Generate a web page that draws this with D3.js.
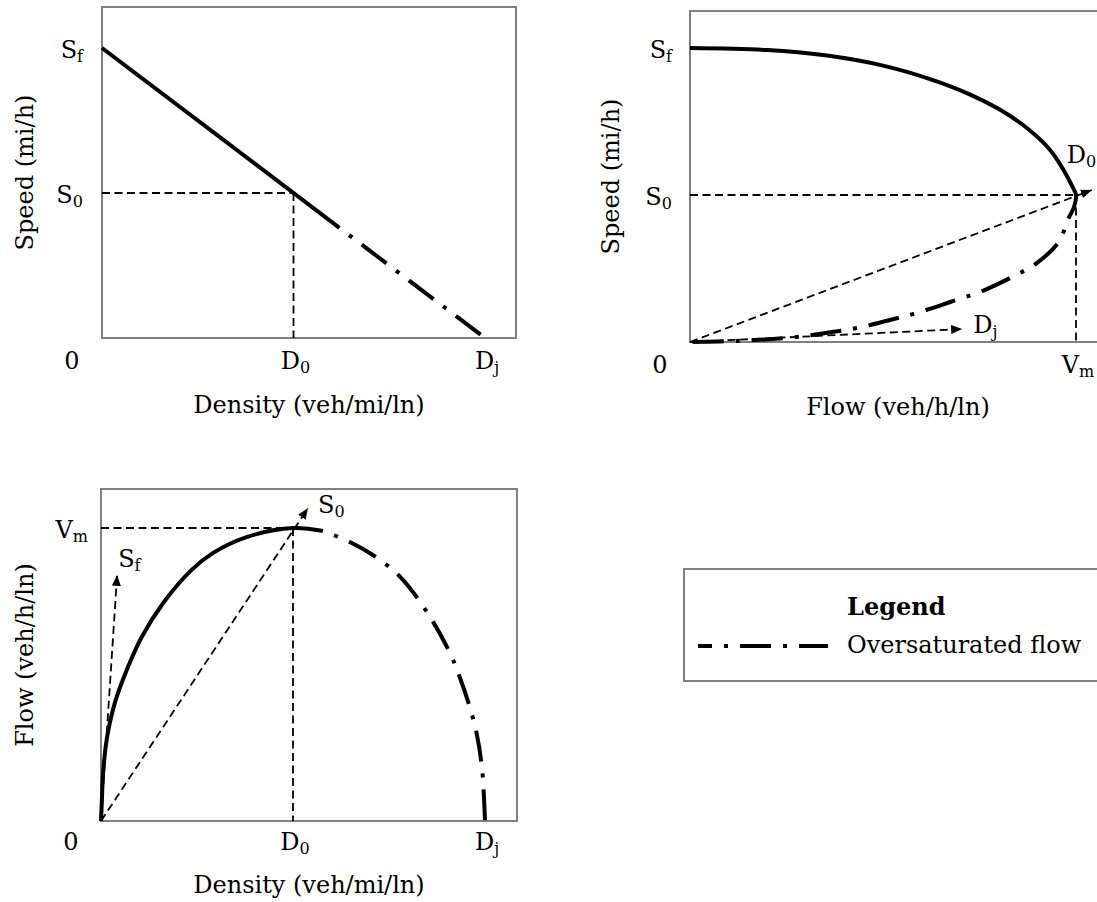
<!DOCTYPE html>
<html><head><meta charset="utf-8">
<script src="https://cdn.jsdelivr.net/npm/d3@7"></script>
<style>
body{margin:0;background:#fff}
svg{display:block}
text{font-family:"DejaVu Serif",serif;fill:#000}
</style>
</head><body>
<svg id="c" width="1097" height="902"></svg>
<script>
// ---------------- data (normalised: Sf = 1, Dj = 1, Vm = 1) ----------------
const originLabel = "0";
const densityTickLabels = [{value:0.5, main:"D", sub:"0"}, {value:1, main:"D", sub:"j"}];
const speedTickLabels   = [{value:1, main:"S", sub:"f"}, {value:0.5, main:"S", sub:"0"}];
const flowTickLabels    = [{value:1, main:"V", sub:"m"}];
const densityTitle = "Density (veh/mi/ln)";
const speedTitle   = "Speed (mi/h)";
const flowTitle    = "Flow (veh/h/ln)";
const legendTitle  = "Legend";
const legendItem   = "Oversaturated flow";

// speed vs density [density, speed]
const sdUnder = [[0,1.0],[0.62,0.38]];
const sdOver  = [[0.62,0.38],[1.0,0.0]];
// speed vs flow [flow, speed]
const sfUnder = [[0,1.0],[0.2,0.993],[0.35,0.975],[0.5,0.94],[0.62,0.895],[0.72,0.845],[0.81,0.785],
                 [0.88,0.72],[0.935,0.65],[0.97,0.58],[0.99,0.53],[1.0,0.5],[0.995,0.46],[0.98,0.42]];
const sfOver  = [[0.98,0.42],[0.955,0.34],[0.90,0.27],[0.84,0.225],[0.76,0.175],[0.674,0.136],
                 [0.588,0.099],[0.518,0.075],[0.433,0.048],[0.358,0.032],[0.267,0.016],[0.13,0.004],[0,0]];
// flow vs density [density, flow]
const fdUnder = [[0,0],[0.002,0.061],[0.006,0.174],[0.016,0.287],[0.036,0.403],[0.067,0.515],[0.106,0.628],
                 [0.162,0.744],[0.236,0.857],[0.292,0.915],[0.379,0.969],[0.5,1.0],[0.578,0.990]];
const fdOver  = [[0.578,0.990],[0.648,0.952],[0.719,0.898],[0.779,0.833],[0.849,0.713],[0.909,0.573],
                 [0.935,0.488],[0.961,0.386],[0.979,0.294],[0.992,0.184],[0.997,0.089],[1.0,0.0]];

// reference (dashed) lines [[x1,y1],[x2,y2]]
const sdRefs = [[[0,0.5],[0.5,0.5]], [[0.5,0.5],[0.5,0]]];
const sfRefs = [[[0,0.5],[1,0.5]], [[1,0.5],[1,0]]];
const sfRays = [{pts:[[0,0],[1.041,0.517]], main:"D", sub:"0", dx:-25, dy:-27},
                {pts:[[0,0],[0.705,0.044]], main:"D", sub:"j", dx:11, dy:4}];
const fdRefs = [[[0,1],[0.5,1]], [[0.5,1],[0.5,0]]];
const fdRays = [{pts:[[0,0],[0.539,1.068]], main:"S", sub:"0", dx:10, dy:5},
                {pts:[[0,0],[0.042,0.84]], main:"S", sub:"f", dx:1, dy:-8}];

// ---------------- drawing ----------------
const svg = d3.select("#c");
const defs = svg.append("defs");
defs.append("marker").attr("id","arr").attr("markerUnits","userSpaceOnUse")
  .attr("markerWidth",12).attr("markerHeight",10).attr("refX",11).attr("refY",4.5)
  .attr("orient","auto")
  .append("path").attr("d","M0,0L11,4.5L0,9Z").attr("fill","#000");

const FS = 24, SUB = 16;
const DASHDOT = "31,12,4,12";

function label(g, x, y, main, sub, anchor){
  const t = g.append("text").attr("x",x).attr("y",y).attr("font-size",FS).attr("text-anchor",anchor||"middle");
  t.append("tspan").text(main);
  if(sub) t.append("tspan").attr("font-size",SUB).attr("dy",4).text(sub);
  return t;
}

function panel(cfg){
  const g = svg.append("g");
  const x = d3.scaleLinear().domain([0,1]).range(cfg.xr);
  const y = d3.scaleLinear().domain([0,1]).range(cfg.yr);
  const line = d3.line().x(d=>x(d[0])).y(d=>y(d[1])).curve(cfg.curve || d3.curveLinear);
  const straight = d3.line().x(d=>x(d[0])).y(d=>y(d[1]));
  // frame
  g.append("rect").attr("x",cfg.frame[0]).attr("y",cfg.frame[1])
   .attr("width",cfg.frame[2]-cfg.frame[0]).attr("height",cfg.frame[3]-cfg.frame[1])
   .attr("fill","none").attr("stroke","#808080").attr("stroke-width",2);
  // dashed refs
  cfg.refs.forEach(r=>{
    g.append("path").attr("d",straight(r)).attr("fill","none").attr("stroke","#000")
     .attr("stroke-width",1.8).attr("stroke-dasharray","8,4.5");
  });
  (cfg.rays||[]).forEach(r=>{
    g.append("path").attr("d",straight(r.pts)).attr("fill","none").attr("stroke","#000")
     .attr("stroke-width",1.8).attr("stroke-dasharray","8,4.5").attr("marker-end","url(#arr)");
    const tip = r.pts[1];
    label(g, x(tip[0])+r.dx, y(tip[1])+r.dy, r.main, r.sub, "start");
  });
  // curves
  g.append("path").attr("d",line(cfg.under)).attr("fill","none").attr("stroke","#000").attr("stroke-width",4);
  g.append("path").attr("d",line(cfg.over)).attr("fill","none").attr("stroke","#000").attr("stroke-width",4)
   .attr("stroke-dasharray",DASHDOT).attr("stroke-dashoffset",31);
  // tick labels
  cfg.xTicks.forEach(t=>label(g, x(t.value)+2, cfg.tickY, t.main, t.sub, "middle"));
  cfg.yTicks.forEach(t=>label(g, cfg.frame[0]-cfg.yTickGap, y(t.value)+cfg.yTickDy, t.main, t.sub, "end"));
  g.append("text").attr("x",cfg.frame[0]-30).attr("y",cfg.tickY).attr("font-size",FS)
   .attr("text-anchor","middle").text(originLabel);
  // titles
  g.append("text").attr("x",(cfg.frame[0]+cfg.frame[2])/2).attr("y",cfg.xTitleY).attr("font-size",FS)
   .attr("text-anchor","middle").text(cfg.xTitle);
  g.append("text").attr("transform",`translate(${cfg.yTitleX},${(cfg.frame[1]+cfg.frame[3])/2}) rotate(-90)`)
   .attr("font-size",FS).attr("text-anchor","middle").text(cfg.yTitle);
}

panel({frame:[102,7,516,338], xr:[102,485], yr:[338,48], under:sdUnder, over:sdOver,
  refs:sdRefs, xTicks:densityTickLabels, yTicks:speedTickLabels, tickY:369, yTickGap:19, yTickDy:10,
  xTitle:densityTitle, xTitleY:413, yTitle:speedTitle, yTitleX:33});

panel({frame:[690,11,1106,342], xr:[690,1076], yr:[342,48], under:sfUnder, over:sfOver,
  curve:d3.curveCatmullRom.alpha(0.5),
  refs:sfRefs, rays:sfRays, xTicks:flowTickLabels, yTicks:speedTickLabels, tickY:373, yTickGap:18, yTickDy:10,
  xTitle:flowTitle, xTitleY:415, yTitle:speedTitle, yTitleX:619});

panel({frame:[101,489,517,821], xr:[101,485], yr:[821,528], under:fdUnder, over:fdOver,
  curve:d3.curveCatmullRom.alpha(0.5),
  refs:fdRefs, rays:fdRays, xTicks:densityTickLabels, yTicks:flowTickLabels, tickY:850, yTickGap:13, yTickDy:10,
  xTitle:densityTitle, xTitleY:893, yTitle:flowTitle, yTitleX:33});

// legend
const lg = svg.append("g");
lg.append("rect").attr("x",684).attr("y",569).attr("width",430).attr("height",112)
  .attr("fill","none").attr("stroke","#808080").attr("stroke-width",2);
lg.append("text").attr("x",847).attr("y",615).attr("font-size",FS).attr("font-weight","bold").text(legendTitle);
lg.append("line").attr("x1",698).attr("x2",828).attr("y1",646).attr("y2",646)
  .attr("stroke","#000").attr("stroke-width",4).attr("stroke-dasharray",DASHDOT).attr("stroke-dashoffset",17);
lg.append("text").attr("x",847).attr("y",653).attr("font-size",FS).text(legendItem);
</script>
</body></html>
